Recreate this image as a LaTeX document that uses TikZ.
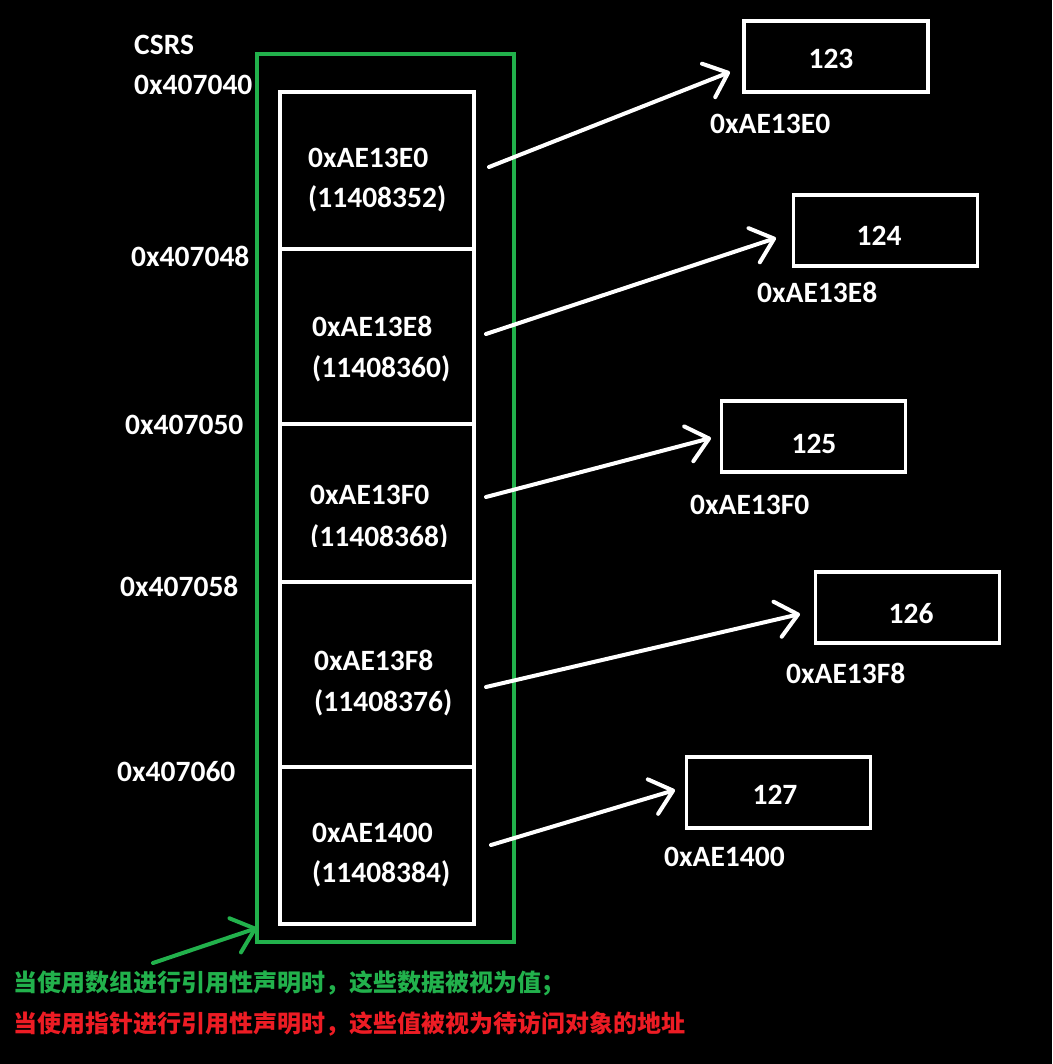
\documentclass[tikz,border=0pt]{standalone}
\usepackage{fontspec}
\setmainfont{Carlito}
\newfontfamily\cjk{Noto Sans CJK SC}
\usetikzlibrary{arrows.meta}
\definecolor{pgreen}{RGB}{34,177,76}
\definecolor{pred}{RGB}{237,28,36}
\begin{document}
\begin{tikzpicture}[x=1pt,y=-1pt,
  lbl/.style={text=white,font=\fontsize{29.5}{31}\selectfont\bfseries,anchor=base west,inner sep=0pt},
  num/.style={text=white,font=\fontsize{29.5}{31}\selectfont\bfseries,inner sep=0pt},
  cell/.style={draw=white,line width=3.5pt,minimum width=194pt,inner sep=0pt,outer sep=0pt},
  valbox/.style={draw=white,line width=3.5pt,minimum width=184pt,minimum height=71pt,inner sep=0pt,outer sep=0pt},
  ptr/.style={draw=white,line width=4pt,line cap=round,-{Straight Barb[length=21pt,width=36pt,round]}},
  gptr/.style={draw=pgreen,line width=4pt,line cap=round,-{Straight Barb[length=21pt,width=36pt,round]}},
  note/.style={font=\cjk\bfseries\fontsize{24}{26}\selectfont,anchor=west,inner sep=0pt}]
\fill[black] (0,0) rectangle (1052,1064);
\useasboundingbox (0,0) rectangle (1052,1064);

% green frame
\node[draw=pgreen,line width=3.5pt,minimum width=257pt,minimum height=888pt,inner sep=0pt,outer sep=0pt] (frame) at (385.5,498) {};

% cells
\node[cell,minimum height=157pt] (c1) at (377,170.5) {};
\node[cell,minimum height=175pt] (c2) at (377,336.5) {};
\node[cell,minimum height=158pt] (c3) at (377,503) {};
\node[cell,minimum height=185pt] (c4) at (377,674.5) {};
\node[cell,minimum height=157pt] (c5) at (377,845.5) {};

% cell texts
\node[lbl] (t1a) at (308,168) {0xAE13E0};
\node[lbl] (t1b) at (308,208) {(11408352)};
\node[lbl] (t2a) at (312,336) {0xAE13E8};
\node[lbl] (t2b) at (312,377) {(11408360)};
\node[lbl] (t3a) at (310,504) {0xAE13F0};
\begin{scope}
\clip (300,470) rectangle (470,546);
\node[lbl] (t3b) at (310,546) {(11408368)};
\end{scope}
\node[lbl] (t4a) at (314,670) {0xAE13F8};
\node[lbl] (t4b) at (314,711) {(11408376)};
\node[lbl] (t5a) at (312,842) {0xAE1400};
\node[lbl] (t5b) at (312,882) {(11408384)};

% left address labels
\node[lbl] (csrs) at (134,55) {CSRS};
\node[lbl] (a0) at (134,95) {0x407040};
\node[lbl] (a1) at (131,266) {0x407048};
\node[lbl] (a2) at (125,434) {0x407050};
\node[lbl] (a3) at (120,596) {0x407058};
\node[lbl] (a4) at (117,781) {0x407060};

% value boxes
\node[valbox] (v1) at (836,56.5) {};
\node[valbox] (v2) at (885.5,230.5) {};
\node[valbox] (v3) at (813.5,436.5) {};
\node[valbox] (v4) at (907.5,607.5) {};
\node[valbox] (v5) at (778.5,792.5) {};
\node[num] (n123) at (831,59) {123};
\node[num] (n124) at (879,236) {124};
\node[num] (n125) at (814,444) {125};
\node[num] (n126) at (911,614) {126};
\node[num] (n127) at (775,795) {127};

% value addresses
\node[lbl] (l1) at (710,134) {0xAE13E0};
\node[lbl] (l2) at (757,302) {0xAE13E8};
\node[lbl] (l3) at (690,514) {0xAE13F0};
\node[lbl] (l4) at (786,683) {0xAE13F8};
\node[lbl] (l5) at (664,866) {0xAE1400};

% arrow ends
\coordinate (s1) at (489,167); \coordinate (e1) at (730,72);
\coordinate (s2) at (486,334); \coordinate (e2) at (776,238);
\coordinate (s3) at (486,497); \coordinate (e3) at (711,438);
\coordinate (s4) at (486,687); \coordinate (e4) at (800,614);
\coordinate (s5) at (491,845); \coordinate (e5) at (675,790);
\draw[ptr] (s1) -- (e1);
\draw[ptr] (s2) -- (e2);
\draw[ptr] (s3) -- (e3);
\draw[ptr] (s4) -- (e4);
\draw[ptr] (s5) -- (e5);

\coordinate (gs) at (153,963);
\draw[gptr] (gs) -- (frame.south west |- 0,928);

% notes
\node[note,text=pgreen] (n1) at (13,983) {当使用数组进行引用性声明时，这些数据被视为值；};
\node[note,text=pred] (n2) at (13,1024) {当使用指针进行引用性声明时，这些值被视为待访问对象的地址};
\end{tikzpicture}
\end{document}
